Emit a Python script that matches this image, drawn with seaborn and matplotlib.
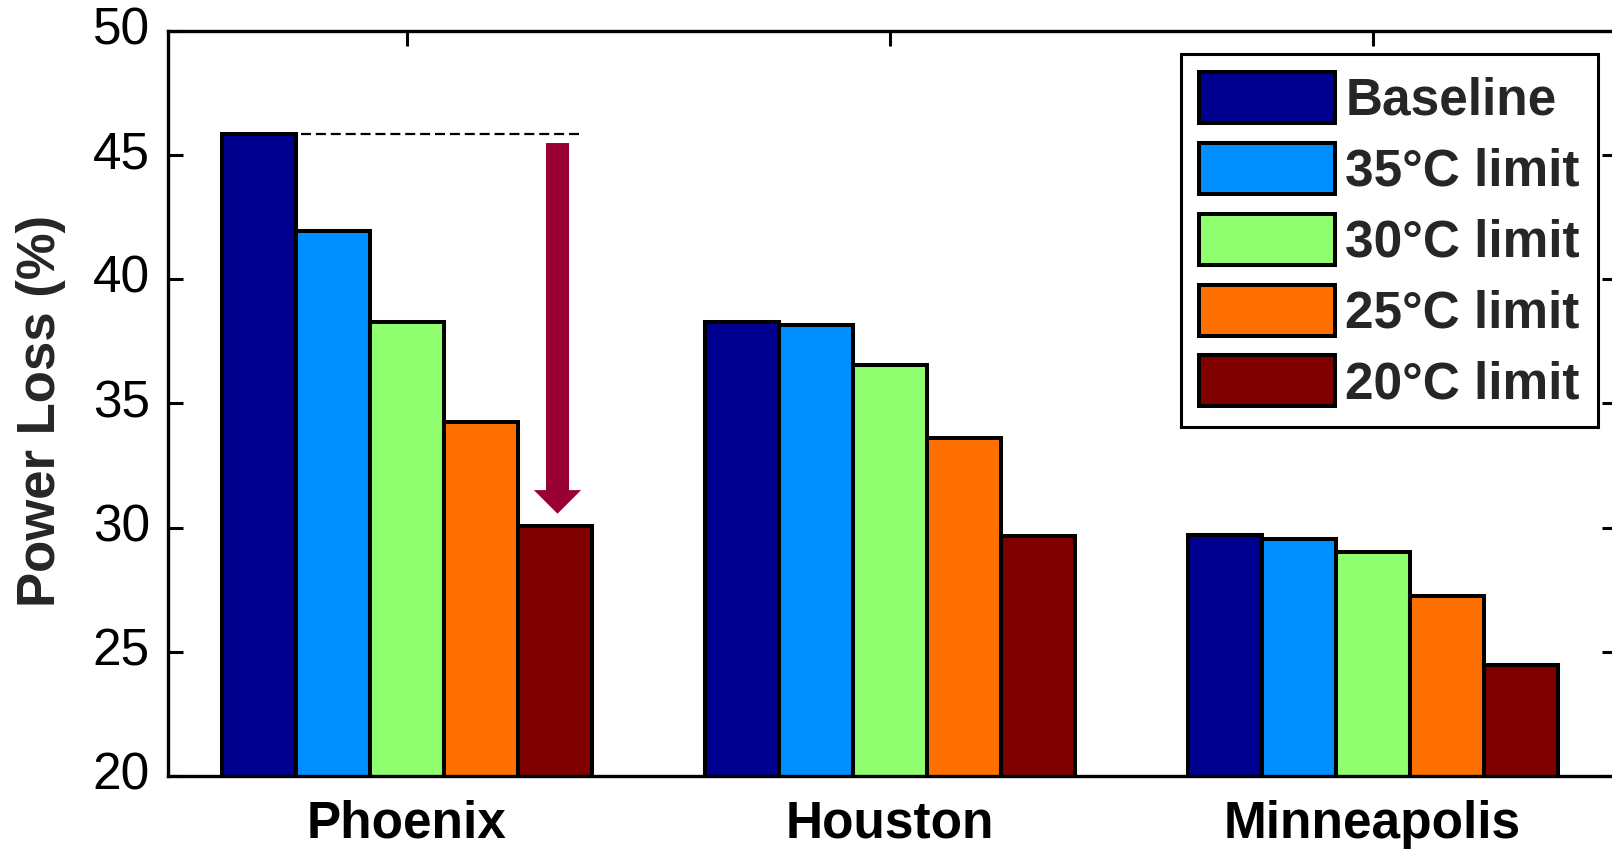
import matplotlib
matplotlib.use("Agg")
import matplotlib.pyplot as plt
import seaborn as sns
import pandas as pd
from matplotlib.patches import FancyArrowPatch

cities = ["Phoenix", "Houston", "Minneapolis"]
series = ["Baseline", "35\u00b0C limit", "30\u00b0C limit", "25\u00b0C limit", "20\u00b0C limit"]
baseline = [45.85, 38.3, 29.7]
limit35 = [41.95, 38.15, 29.55]
limit30 = [38.3, 36.55, 29.0]
limit25 = [34.25, 33.6, 27.25]
limit20 = [30.05, 29.65, 24.45]
colors = ["#00008F", "#008FFF", "#8FFF6F", "#FF7000", "#800000"]
yticks = [20, 25, 30, 35, 40, 45, 50]

sns.set_style("white")
plt.rcParams["font.family"] = ["Liberation Sans", "DejaVu Sans"]

rows = []
for name, vals in zip(series, [baseline, limit35, limit30, limit25, limit20]):
    for c, v in zip(cities, vals):
        rows.append({"City": c, "Series": name, "Loss": v})
df = pd.DataFrame(rows)

W, H = 1612, 851
fig = plt.figure(figsize=(W / 100, H / 100), dpi=100)
ax = fig.add_axes([168 / W, 75 / H, (1617 - 168) / W, 745 / H])

group_w = 0.766
sns.barplot(data=df, x="City", y="Loss", hue="Series", order=cities,
            hue_order=series, palette=colors, width=group_w, dodge=True,
            edgecolor="black", linewidth=2.9, saturation=1, ax=ax, legend=True)

ax.set_ylim(20, 50)
ax.set_xlim(-0.494, 2.506)
ax.set_yticks(yticks)
ax.set_xlabel("")
ax.set_ylabel("Power Loss (%)", fontsize=38, fontweight="bold")
ax.yaxis.set_label_coords(-0.0704, 0.49)

for s in ax.spines.values():
    s.set_visible(True)
    s.set_linewidth(2.4)
    s.set_color("black")

ax.tick_params(axis="y", which="both", direction="in", length=10.8, width=2.2,
               left=True, right=True, labelsize=37, pad=13, colors="black")
ax.tick_params(axis="x", which="both", direction="in", length=10.8, width=2.2,
               bottom=True, top=True, labelsize=37, pad=17, colors="black")
for lab in ax.get_xticklabels():
    lab.set_fontweight("bold")
for lab in ax.get_yticklabels():
    lab.set_verticalalignment("center")

# legend
handles, labels = ax.get_legend_handles_labels()
old = ax.get_legend()
if old is not None:
    old.remove()
leg = ax.legend(handles, labels, loc="upper right",
                bbox_to_anchor=(1598 / W, 1 - 54 / H), bbox_transform=fig.transFigure,
                borderaxespad=0, prop={"weight": "bold", "size": 37},
                handlelength=2.65, handleheight=1.15, handletextpad=0.2,
                labelspacing=0.33, borderpad=0.35, fancybox=False, framealpha=1,
                edgecolor="black")
leg.get_frame().set_linewidth(2.2)
for p in leg.get_patches():
    p.set_edgecolor("black")
    p.set_linewidth(2.9)

# annotation: dashed reference line and arrow for Phoenix
bw = group_w / len(series)
x0 = 0 - group_w / 2
ax.hlines(baseline[0], x0 + bw + 0.012, x0 + group_w - 0.022, colors="black",
          linestyles=(0, (4.5, 2.2)), linewidth=1.6, zorder=5)
xa = x0 + 4.5 * bw + 0.006
arr = FancyArrowPatch((xa, baseline[0] - 0.25), (xa, limit20[0] + 0.4),
                      arrowstyle="simple,head_length=17,head_width=34,tail_width=16.6",
                      mutation_scale=1, color="#990033", linewidth=0, zorder=6)
ax.add_patch(arr)

fig.savefig("out.png", dpi=100)
